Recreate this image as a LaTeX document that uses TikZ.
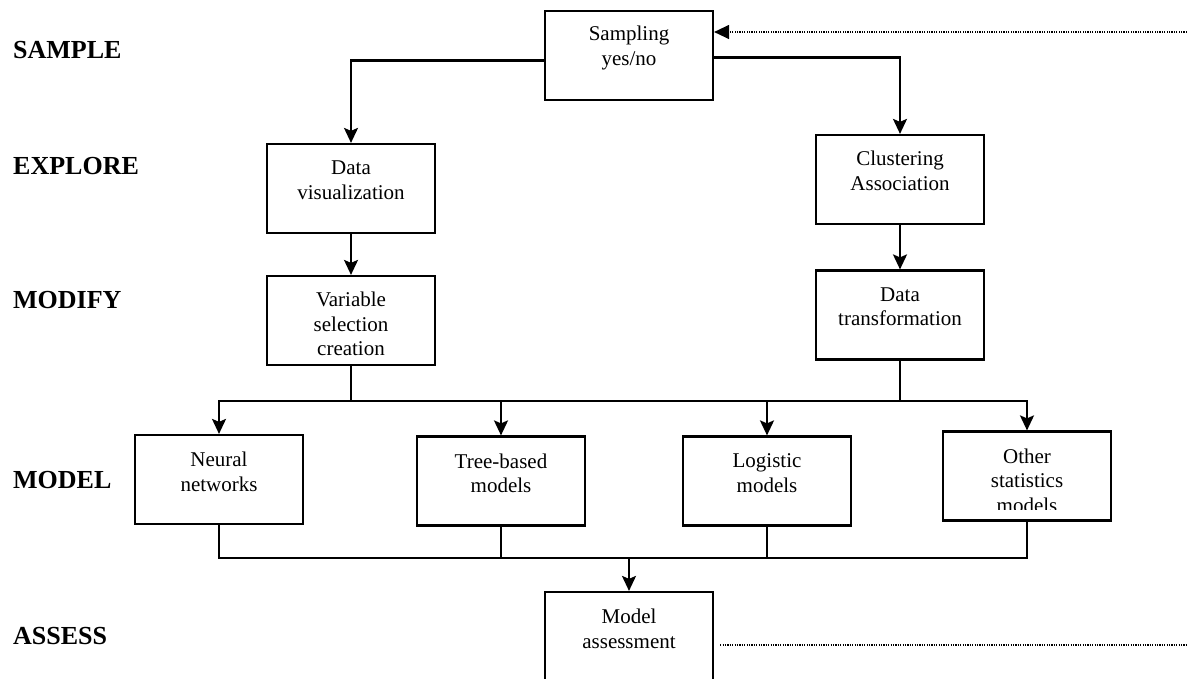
\documentclass[tikz,border=0pt]{standalone}
\usepackage{fontspec}
\setmainfont{Liberation Serif}
\usetikzlibrary{arrows.meta,calc}
\begin{document}
\begin{tikzpicture}[x=1pt,y=-1pt,
  box/.style={draw,line width=2.2pt,minimum width=168pt,minimum height=89pt,inner sep=0pt},
  boxtext/.style={align=center,inner sep=0pt,font=\fontsize{21}{24.5}\selectfont},
  stage/.style={anchor=west,inner sep=0pt,font=\fontsize{26}{30}\selectfont\bfseries},
  link/.style={line width=2.2pt},
  bus/.style={link,line cap=rect},
  feed/.style={link,-{Stealth[length=15pt,width=14pt,inset=3pt]}},
  dots/.style={line width=1.3pt,dash pattern=on 1.2pt off 1.2pt},
]
\clip (0,0) rectangle (1187,678);
\fill[white] (0,0) rectangle (1187,678);

% stage names down the left margin
\node[stage] (s-sample)  at (13,50)  {SAMPLE};
\node[stage] (s-explore) at (13,166) {EXPLORE};
\node[stage] (s-modify)  at (13,300) {MODIFY};
\node[stage] (s-model)   at (13,480) {MODEL};
\node[stage] (s-assess)  at (13,636) {ASSESS};

% process boxes
\node[box] (samp) at (629,55.5)  {};
\node[box] (dvis) at (351,188.5) {};
\node[box] (vsel) at (351,320.5) {};
\node[box] (clus) at (900,179.5) {};
\node[box] (dtr)  at (900,315)   {};
\node[box] (nn)   at (219,479.5) {};
\node[box] (tree) at (501,481)   {};
\node[box] (logi) at (767,481)   {};
\node[box] (oth)  at (1027,476)  {};
\node[box] (mass) at (629,636.5) {};

% box captions, set from the top edge
\node[boxtext,anchor=north] (samp-t) at ([yshift=-16pt]samp.north) {Sampling\\yes/no};
\node[boxtext,anchor=north] (dvis-t) at ([yshift=-18pt]dvis.north) {Data\\visualization};
\node[boxtext,anchor=north] (vsel-t) at ([yshift=-17pt]vsel.north) {Variable\\selection\\creation};
\node[boxtext,anchor=north] (clus-t) at ([yshift=-17pt]clus.north) {Clustering\\Association};
\node[boxtext,anchor=north] (dtr-t)  at ([yshift=-18pt]dtr.north)  {Data\\transformation};
\node[boxtext,anchor=north] (nn-t)   at ([yshift=-18pt]nn.north)   {Neural\\networks};
\node[boxtext,anchor=north] (tree-t) at ([yshift=-18pt]tree.north) {Tree-based\\models};
\node[boxtext,anchor=north] (logi-t) at ([yshift=-18pt]logi.north) {Logistic\\models};
\begin{scope}
  \clip (900,420) rectangle (1150,509);
  \node[boxtext,anchor=north] (oth-t) at ([yshift=-18pt]oth.north) {Other\\statistics\\models};
\end{scope}
\node[boxtext,anchor=north] (mass-t) at ([yshift=-18pt]mass.north) {Model\\assessment};

% branches out of the sampling step
\draw[feed] ([yshift=-5pt]samp.west) -| (dvis.north);
\draw[feed] ([yshift=-2pt]samp.east) -| (clus.north);
\draw[feed] (dvis) -- (vsel);
\draw[feed] (clus) -- (dtr);

% collecting bus feeding the models
\coordinate (bus1) at (0,401);
\draw[bus] (vsel.south) -- (vsel.south |- bus1);
\draw[bus] (dtr.south) -- (dtr.south |- bus1);
\draw[bus] (nn.north |- bus1) -- (oth.north |- bus1);
\foreach \m in {nn,tree,logi,oth}
  \draw[feed] (\m.north |- bus1) -- (\m.north);

% collecting bus into the assessment
\coordinate (bus2) at (0,558);
\foreach \m in {nn,tree,logi,oth}
  \draw[bus] (\m.south) -- (\m.south |- bus2);
\draw[bus] (nn.south |- bus2) -- (oth.south |- bus2);
\draw[feed] (mass.north |- bus2) -- (mass.north);

% feedback loop, dotted
\coordinate (fbtop) at (1187,32);
\draw[dots,-{Triangle[length=15pt,width=14pt]}] (fbtop) -- (samp.east |- fbtop);
\coordinate (fbbot) at (1187,645);
\draw[dots] ([xshift=6pt]mass.east |- fbbot) -- (fbbot);
\end{tikzpicture}
\end{document}
